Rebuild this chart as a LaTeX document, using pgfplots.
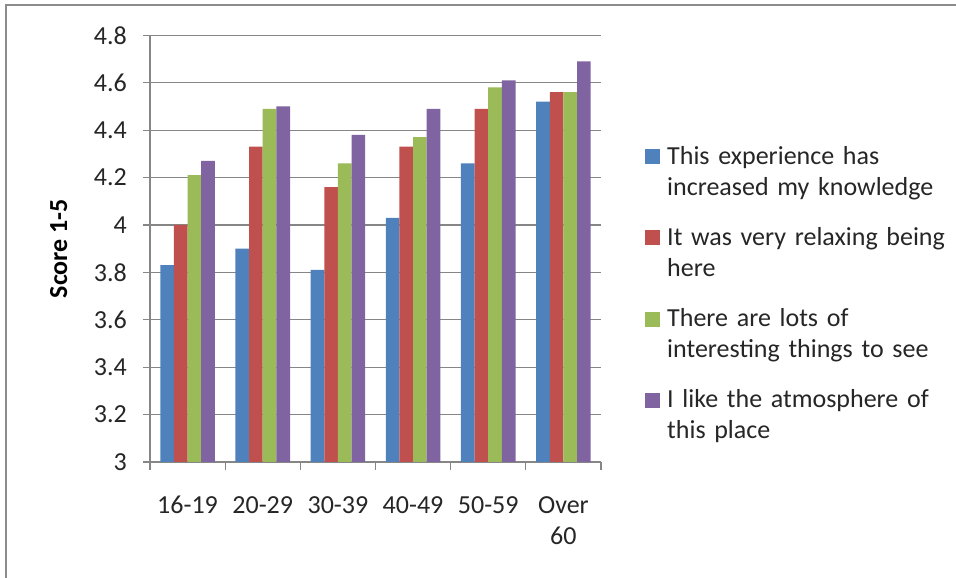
\documentclass[border=0pt]{standalone}
\usepackage{fontspec}
\setmainfont{Carlito}
\usepackage{pgfplots}
\pgfplotsset{compat=1.18}
\definecolor{cblue}{HTML}{4F81BD}
\definecolor{cred}{HTML}{C0504D}
\definecolor{cgreen}{HTML}{9BBB59}
\definecolor{cpurple}{HTML}{8064A2}
\definecolor{gridgray}{HTML}{868686}
\definecolor{framegray}{HTML}{8C8C8C}
\newcommand{\fs}{\fontsize{26bp}{31bp}\selectfont}
\pgfplotsset{sq/.style={legend image code/.code={\draw[##1,draw=none] (0bp,0bp) rectangle (15bp,15bp);}}}
\begin{document}
\begin{tikzpicture}
\useasboundingbox (0,0) rectangle (956bp,578bp);
\fill[white] (0,0) rectangle (956bp,578bp);
\draw[framegray,line width=2bp] (6bp,-2bp) -- (6bp,573bp) -- (960bp,573bp);
\begin{axis}[
  at={(150bp,116bp)}, anchor=south west,
  scale only axis, width=451bp, height=426.7bp,
  xmin=-0.5, xmax=5.5, ymin=3, ymax=4.8,
  ybar=0pt, bar width=13.65bp,
  separate axis lines,
  axis x line*=bottom, axis y line*=left,
  axis line style={-, gridgray, line width=1.2bp},
  ymajorgrids, grid style={gridgray, line width=1.2bp},
  xtick={0,1,2,3,4,5},
  xticklabels={16-19,20-29,30-39,40-49,50-59,{Over\\60}},
  major x tick style={draw=none},
  minor xtick={-0.5,0.5,1.5,2.5,3.5,4.5,5.5},
  minor tick length=8bp,
  major tick length=7bp,
  tick align=outside,
  tick style={gridgray, line width=1.2bp},
  ytick={3,3.2,3.4,3.6,3.8,4,4.2,4.4,4.6,4.8},
  yticklabels={3,3.2,3.4,3.6,3.8,4,4.2,4.4,4.6,4.8},
  /pgf/number format/assume math mode=true,
  tick label style={font=\fs, text=black!85},
  xticklabel style={align=center, anchor=north, inner sep=0pt, yshift=-27bp},
  yticklabel style={anchor=east, inner sep=0pt, xshift=-16bp},
  every axis y label/.style={at={(axis description cs:-0.184,0.5)}, anchor=base, rotate=90, font=\fs\bfseries},
  ylabel={Score 1-5},
  legend style={at={(axis description cs:1.0976,0.749)}, anchor=north west,
    draw=none, fill=none, inner sep=0pt, column sep=7bp, row sep=58bp,
    font=\fs, text=black!85,
    nodes={text width=290bp, align=left, inner sep=0pt}},
  legend cell align=left,
  legend style={cells={anchor=base west}},
]
\addplot[fill=cblue, draw=none, sq] coordinates {(0,3.83) (1,3.90) (2,3.81) (3,4.03) (4,4.26) (5,4.52)};
\addplot[fill=cred, draw=none, sq] coordinates {(0,4.00) (1,4.33) (2,4.16) (3,4.33) (4,4.49) (5,4.56)};
\addplot[fill=cgreen, draw=none, sq] coordinates {(0,4.21) (1,4.49) (2,4.26) (3,4.37) (4,4.58) (5,4.56)};
\addplot[fill=cpurple, draw=none, sq] coordinates {(0,4.27) (1,4.50) (2,4.38) (3,4.49) (4,4.61) (5,4.69)};
\legend{{\strut This experience has\\increased my knowledge\strut},
        {\strut It was very relaxing being\\here\strut},
        {\strut There are lots of\\interesting things to see\strut},
        {\strut I like the atmosphere of\\this place\strut}}
\end{axis}
\end{tikzpicture}
\end{document}
